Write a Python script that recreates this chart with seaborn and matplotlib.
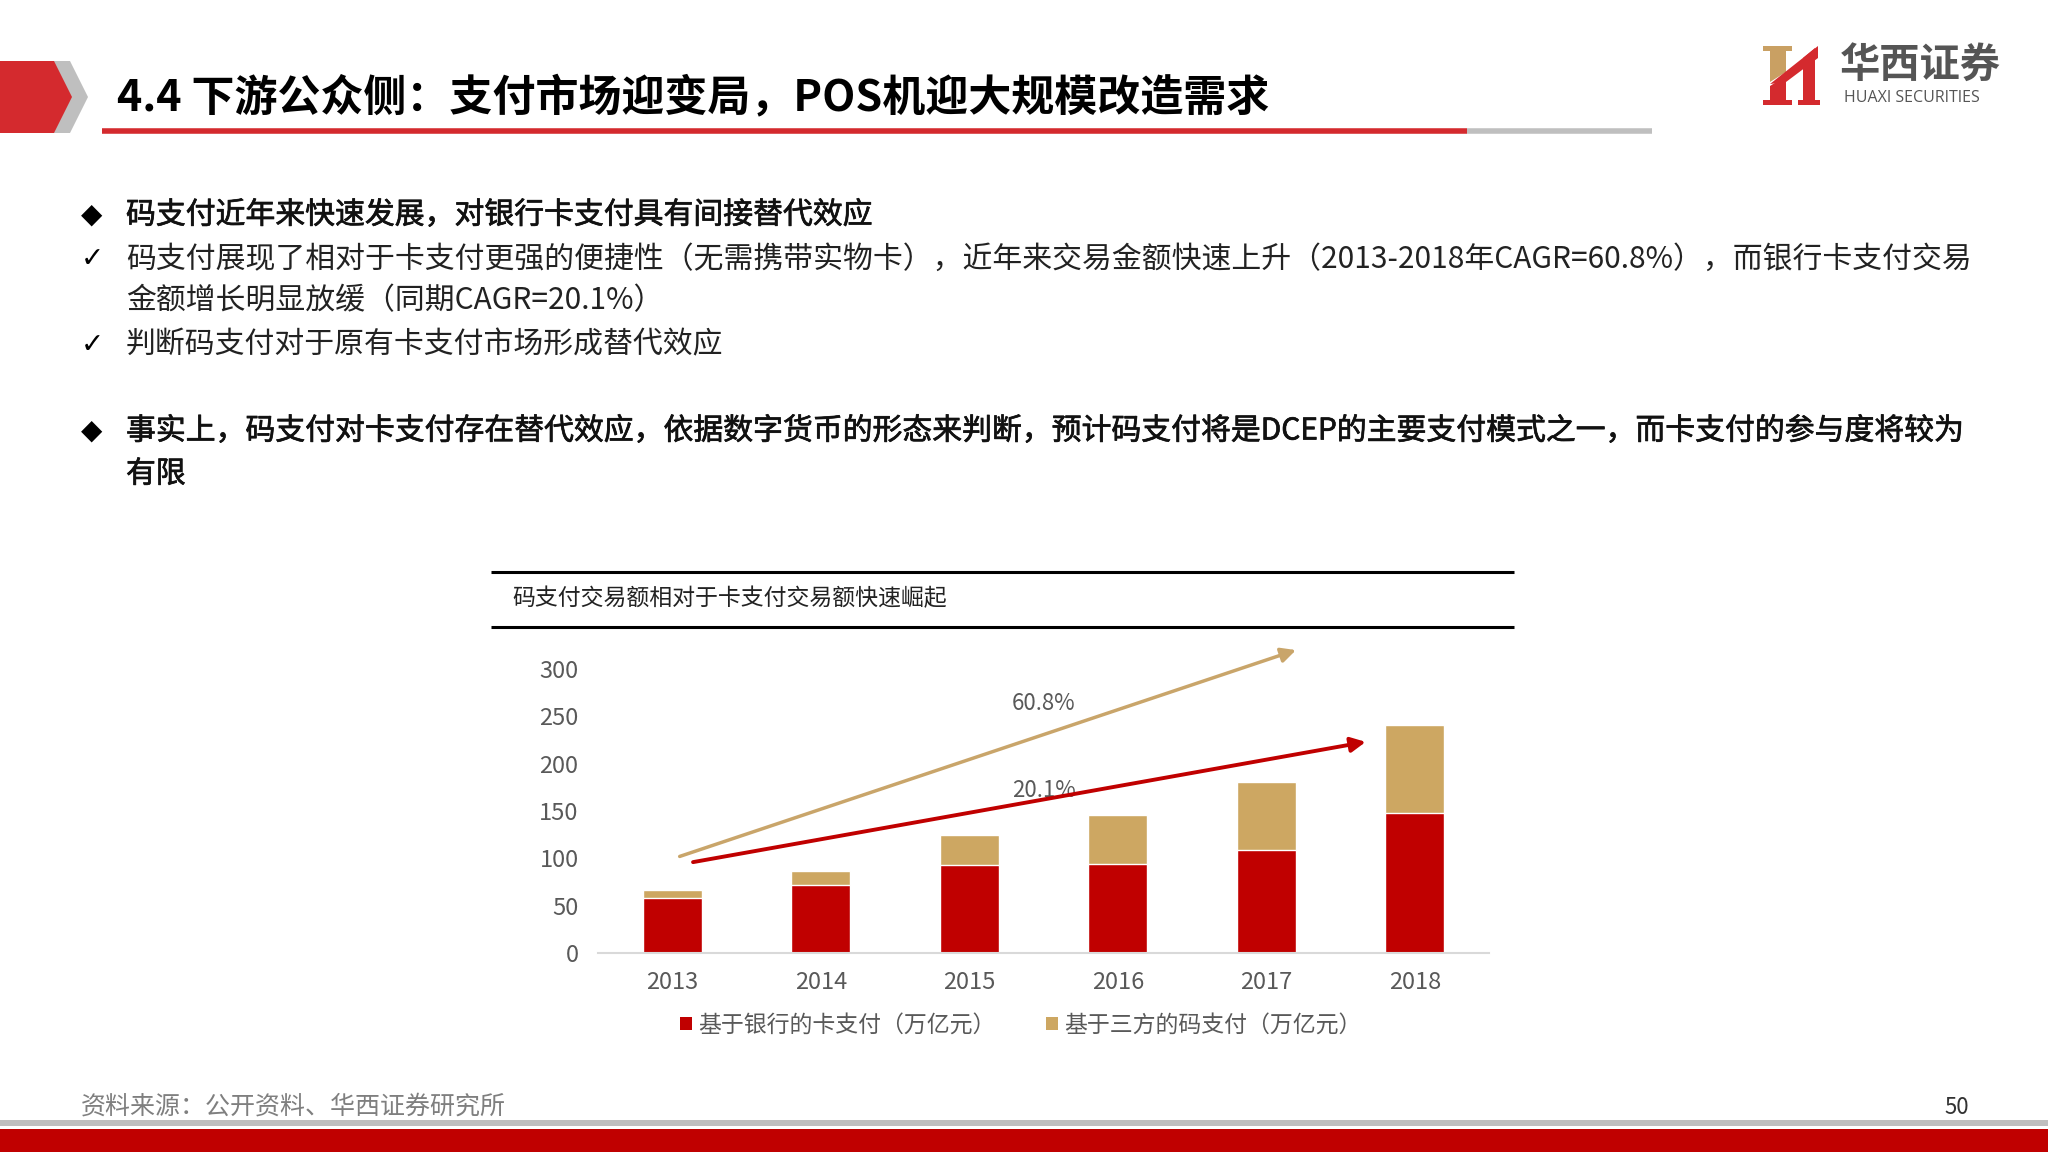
import numpy as np
import pandas as pd
import matplotlib
matplotlib.use("Agg")
import matplotlib.pyplot as plt
import matplotlib.patheffects as pe
from matplotlib.patches import Polygon, Rectangle, Patch
from matplotlib.lines import Line2D
import seaborn as sns

# chart data (万亿元)
years = ["2013", "2014", "2015", "2016", "2017", "2018"]
card_pay = [58, 72, 93, 93.5, 109, 147.5]
code_pay = [9, 14.5, 32, 52.5, 72, 93]

legend_labels = ["基于银行的卡支付（万亿元）", "基于三方的码支付（万亿元）"]
cagr_labels = ["60.8%", "20.1%"]

RED = "#C00000"
GOLD = "#CDA762"
GRAY_TXT = "#595959"

sns.set_theme(style="white")
plt.rcParams['font.family'] = ['Noto Sans CJK SC', 'DejaVu Sans']

W, H = 2048, 1152
fig = plt.figure(figsize=(W / 100, H / 100), dpi=100)


def fx(x):
    return x / W


def fy(y):
    return 1 - y / H


def poly(points, color):
    fig.patches.append(Polygon([(fx(x), fy(y)) for x, y in points], closed=True,
                               transform=fig.transFigure, color=color, lw=0))


def hline(x0, x1, y, color, lw):
    fig.lines.append(Line2D([fx(x0), fx(x1)], [fy(y), fy(y)], transform=fig.transFigure,
                            color=color, lw=lw, solid_capstyle='butt'))


# header chevrons
poly([(0, 61), (70, 61), (88, 97), (70, 133), (0, 133)], "#BFBFBF")
poly([(0, 61), (54, 61), (72, 97), (54, 133), (0, 133)], "#D42A2E")

fig.text(fx(117), fy(97), "4.4 下游公众侧：支付市场迎变局，POS机迎大规模改造需求",
         fontsize=31, fontweight='heavy', color="#000000", va='center', ha='left')
hline(102, 1467, 131, "#D42A2E", 4)
hline(1467, 1652, 131, "#BFBFBF", 4)

# logo
poly([(1763, 46), (1792, 46), (1792, 51), (1786, 51), (1786, 72), (1770, 82), (1770, 51), (1763, 51)], "#C9A063")
poly([(1770, 86), (1786, 76), (1786, 100), (1792, 100), (1792, 105), (1763, 105), (1763, 100), (1770, 100)], "#D42A2E")
poly([(1770, 84), (1818, 46), (1818, 58), (1786, 82)], "#D42A2E")
poly([(1803, 58), (1815, 48), (1815, 100), (1820, 100), (1820, 105), (1798, 105), (1798, 100), (1803, 100)], "#D42A2E")
fig.text(fx(1840), fy(65), "华西证券", fontsize=29, fontweight='bold', color="#555555", va='center', ha='left')
fig.text(fx(1844), fy(98), "HUAXI SECURITIES", fontsize=11.5, color="#555555", va='center', ha='left',
         family=['Open Sans', 'DejaVu Sans'])

# bullet text, True = slightly heavier line
bullets = [
    (215, "◆", "码支付近年来快速发展，对银行卡支付具有间接替代效应", True),
    (259, "✓", "码支付展现了相对于卡支付更强的便捷性（无需携带实物卡），近年来交易金额快速上升（2013-2018年CAGR=60.8%），而银行卡支付交易", False),
    (301, "", "金额增长明显放缓（同期CAGR=20.1%）", False),
    (345, "✓", "判断码支付对于原有卡支付市场形成替代效应", False),
    (431, "◆", "事实上，码支付对卡支付存在替代效应，依据数字货币的形态来判断，预计码支付将是DCEP的主要支付模式之一，而卡支付的参与度将较为", True),
    (474, "", "有限", True),
]
for y, mark, txt, heavy in bullets:
    if mark:
        fig.text(fx(92), fy(y), mark, fontsize=20, color="#000000", va='center', ha='center',
                 family=['DejaVu Sans'])
    t = fig.text(fx(126), fy(y), txt, fontsize=21.5, color="#111111" if heavy else "#222222",
                 va='center', ha='left')
    if heavy:
        t.set_path_effects([pe.withStroke(linewidth=0.5, foreground="#111111")])

# chart title box
hline(491, 1514, 572, "#000000", 2.2)
hline(491, 1514, 627, "#000000", 2.2)
fig.text(fx(512), fy(599), "码支付交易额相对于卡支付交易额快速崛起", fontsize=16.5, color="#222222",
         va='center', ha='left')

# chart
ax = fig.add_axes([fx(598), fy(953), fx(1489) - fx(598), fy(669) - fy(953)])
df = pd.DataFrame({"year": years, "card": card_pay, "code": code_pay})
df["total"] = df["card"] + df["code"]

sns.barplot(data=df, x="year", y="total", color=GOLD, saturation=1, width=0.4, ax=ax)
sns.barplot(data=df, x="year", y="card", color=RED, saturation=1, width=0.4, ax=ax)

ax.set_ylim(0, 300)
ax.set_xlim(-0.5, len(years) - 0.5)
ax.set_yticks(np.arange(0, 301, 50))
ax.set_xlabel("")
ax.set_ylabel("")
ax.tick_params(axis='y', length=0, pad=14, labelsize=17, labelcolor=GRAY_TXT)
ax.tick_params(axis='x', length=0, pad=13, labelsize=17, labelcolor=GRAY_TXT)
for s in ["top", "right", "left"]:
    ax.spines[s].set_visible(False)
ax.spines["bottom"].set_color("#D9D9D9")
ax.spines["bottom"].set_linewidth(1.5)
ax.grid(False)
ax.patch.set_alpha(0)

# CAGR arrows
ax.annotate("", xy=(4.2, 320), xytext=(0.05, 102), annotation_clip=False,
            arrowprops=dict(arrowstyle='-|>', color="#C9A56A", lw=2.5, mutation_scale=22,
                            shrinkA=0, shrinkB=0))
ax.text(2.5, 264, cagr_labels[0], fontsize=16, color=GRAY_TXT, ha='center', va='center')
ax.text(2.5, 172, cagr_labels[1], fontsize=16, color=GRAY_TXT, ha='center', va='center')
ax.annotate("", xy=(4.67, 223), xytext=(0.14, 96), annotation_clip=False,
            arrowprops=dict(arrowstyle='-|>', color="#C00000", lw=2.8, mutation_scale=22,
                            shrinkA=0, shrinkB=0))

handles = [Patch(facecolor=RED, edgecolor='none'), Patch(facecolor=GOLD, edgecolor='none')]
leg = fig.legend(handles, legend_labels, loc='center', bbox_to_anchor=(fx(1021), fy(1025)),
                 ncol=2, frameon=False, fontsize=16.5, handlelength=0.5, handleheight=0.5,
                 handletextpad=0.3, columnspacing=2.2)
for t in leg.get_texts():
    t.set_color(GRAY_TXT)

# footer
fig.text(fx(81), fy(1107), "资料来源：公开资料、华西证券研究所", fontsize=18, color="#7F7F7F",
         style='italic', va='center', ha='left')
fig.text(fx(1957), fy(1107), "50", fontsize=16, color="#333333", va='center', ha='center')
fig.patches.append(Rectangle((0, fy(1126)), 1, fy(1120) - fy(1126), transform=fig.transFigure,
                             color="#BFBFBF", lw=0))
fig.patches.append(Rectangle((0, 0), 1, fy(1129), transform=fig.transFigure, color=RED, lw=0))

fig.savefig("out.png", dpi=100)
